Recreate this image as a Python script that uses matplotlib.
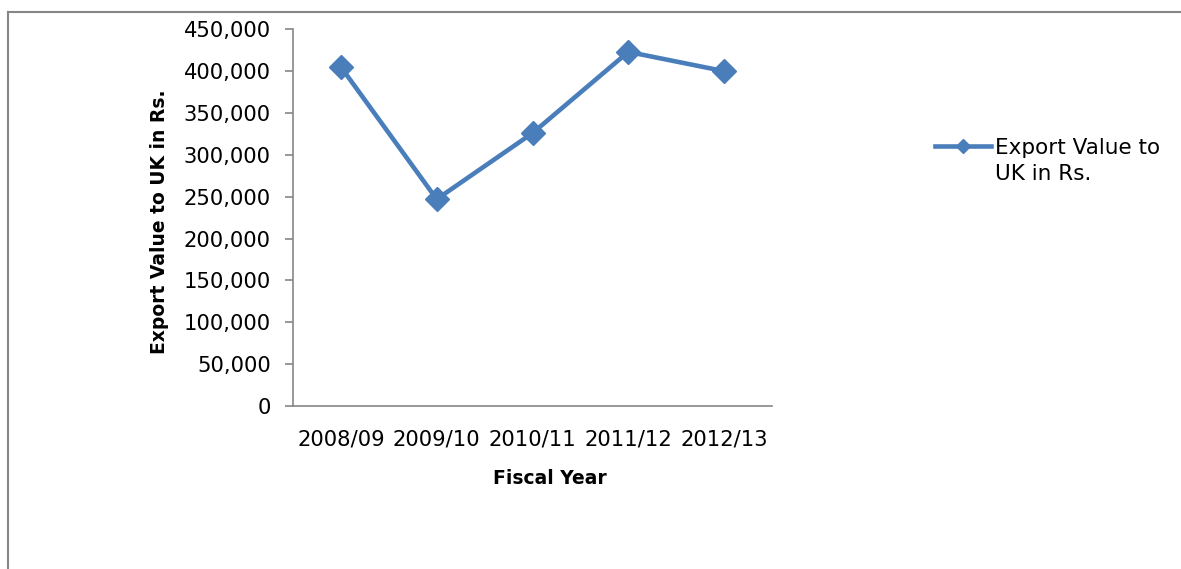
import matplotlib
matplotlib.use("Agg")
import matplotlib.pyplot as plt
from matplotlib.ticker import FuncFormatter, MultipleLocator
from matplotlib.lines import Line2D

# export values to the UK per fiscal year (Rs.)
years = ['2008/09', '2009/10', '2010/11', '2011/12', '2012/13']
export_values = [405000, 247000, 326000, 423000, 400000]
series_name = 'Export Value to'
series_name_2 = 'UK in Rs.'

blue = '#4A7EBB'
grey = '#868686'

fig = plt.figure(figsize=(11.81, 5.69), dpi=100)
ax = fig.add_axes([0.2481, 0.2865, 0.4056, 0.662])

x = range(len(years))
line, = ax.plot(x, export_values, color=blue, lw=3.3, marker='D', markersize=12,
                label=series_name, solid_joinstyle='round')

ax.set_xlim(-0.5, len(years) - 0.5)
ax.set_ylim(0, 450000)
ax.yaxis.set_major_locator(MultipleLocator(50000))
ax.yaxis.set_major_formatter(FuncFormatter(lambda v, p: '{:,.0f}'.format(v)))
ax.set_xticks(list(x))
ax.set_xticklabels(years)

for s in ['top', 'right']:
    ax.spines[s].set_visible(False)
for s in ['left', 'bottom']:
    ax.spines[s].set_color(grey)
    ax.spines[s].set_linewidth(1.2)

ax.tick_params(axis='y', length=6, width=1.2, color=grey, pad=10, labelsize=15.2)
ax.tick_params(axis='x', length=0, pad=17, labelsize=15.2)

ax.set_ylabel('Export Value to UK in Rs.', fontsize=13.5, fontweight='bold')
ax.yaxis.set_label_coords(-0.258, 0.49)
ax.set_xlabel('Fiscal Year', fontsize=13.5, fontweight='bold')
ax.xaxis.set_label_coords(0.537, -0.168)

# legend: series label wraps onto a second row with no handle
blank = Line2D([], [], linestyle='none')
leg = ax.legend([line, blank], [series_name, series_name_2], loc='upper left',
                bbox_to_anchor=(935 / 1181, 1 - 138 / 569),
                bbox_transform=fig.transFigure, frameon=False,
                fontsize=15.5, handlelength=2.6, handletextpad=0.2,
                labelspacing=0.3, markerscale=0.6,
                borderaxespad=0, borderpad=0)

# outer chart frame (left and top edges)
fig.add_artist(Line2D([8 / 1181, 8 / 1181], [0, 1 - 12 / 569],
                      transform=fig.transFigure, color=grey, lw=1.5))
fig.add_artist(Line2D([8 / 1181, 1], [1 - 12 / 569, 1 - 12 / 569],
                      transform=fig.transFigure, color=grey, lw=1.5))

fig.savefig('out.png', dpi=100)
